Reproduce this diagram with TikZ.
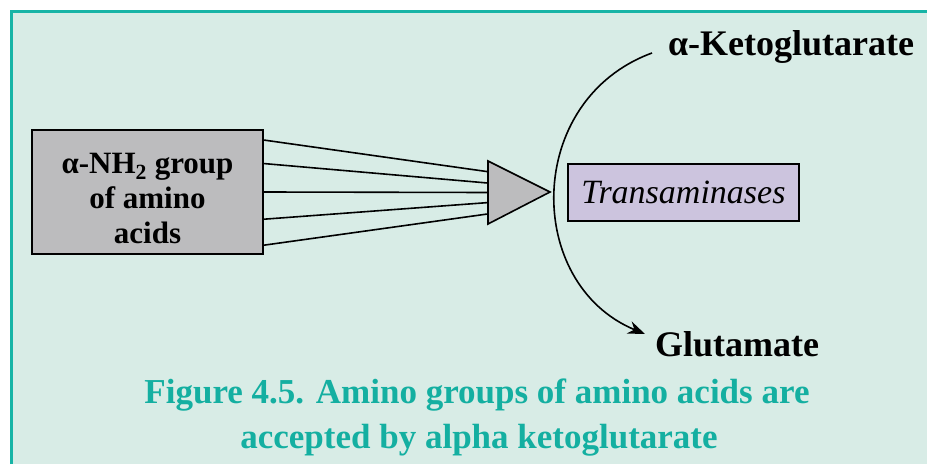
\documentclass[tikz,border=0pt]{standalone}
\usepackage{fontspec}
\setmainfont{Liberation Serif}
\usepackage{tikz}
\usetikzlibrary{calc, arrows.meta}

\definecolor{mintbg}{HTML}{D8ECE6}
\definecolor{tealline}{HTML}{17B4A6}
\definecolor{tealtext}{HTML}{14AFA1}
\definecolor{boxgray}{HTML}{BCBCBE}
\definecolor{enzlilac}{HTML}{CCC4DE}

\begin{document}
\begin{tikzpicture}[x=1pt, y=1pt, line width=1.6pt,
  every node/.style={inner sep=0pt, outer sep=0pt},
  aminobox/.style={draw=black, fill=boxgray, minimum width=231pt, minimum height=124pt},
  aminotext/.style={align=center, font=\fontsize{31}{35}\selectfont\bfseries},
  enzbox/.style={draw=black, fill=enzlilac, minimum width=231pt, minimum height=57pt,
    font=\fontsize{34}{36}\selectfont\itshape},
  metab/.style={font=\fontsize{36}{40}\selectfont\bfseries},
  captext/.style={text=tealtext, font=\fontsize{35}{45}\selectfont\bfseries, anchor=base}]
  \useasboundingbox (0,0) rectangle (927,464);
  \fill[mintbg] (11,0) rectangle (927,452);
  \draw[tealline, line width=3pt] (11,0) -- (11,452) -- (927,452);

  % amino groups feeding the transamination
  \node[aminobox] (amino) at (147.5,272) {};
  \node[aminotext] (aminolbl) at (147.5,265) {α-NH\textsubscript{2} group\\of amino\\acids};
  \coordinate (fup) at (488,303);
  \coordinate (fdown) at (488,240);
  \coordinate (ftip) at (550,272);
  \filldraw[fill=boxgray, draw=black] (fup) -- (ftip) -- (fdown) -- cycle;
  \foreach \a/\b in {0.08/0.17, 0.27/0.35, 0.5/0.5, 0.72/0.66, 0.93/0.84}
    \draw ($(amino.north east)!\a!(amino.south east)$) -- ($(fup)!\b!(fdown)$);

  \node[enzbox] (enz) at (683.5,271.5) {Transaminases};

  % alpha-ketoglutarate to glutamate
  \node[metab, anchor=base west] (keto) at (668,408) {α-Ketoglutarate};
  \node[metab, anchor=base west] (glu) at (655,107) {Glutamate};
  \coordinate (kstart) at (652,411);
  \coordinate (gend) at (645,130);
  \draw[-{Stealth[length=17pt, width=13pt]}] (kstart) .. controls (524,364) and (524,180) .. (gend);

  \node[captext] (cap1) at (477,61) {Figure 4.5. Amino groups of amino acids are};
  \node[captext] (cap2) at (479,16) {accepted by alpha ketoglutarate};
\end{tikzpicture}
\end{document}
